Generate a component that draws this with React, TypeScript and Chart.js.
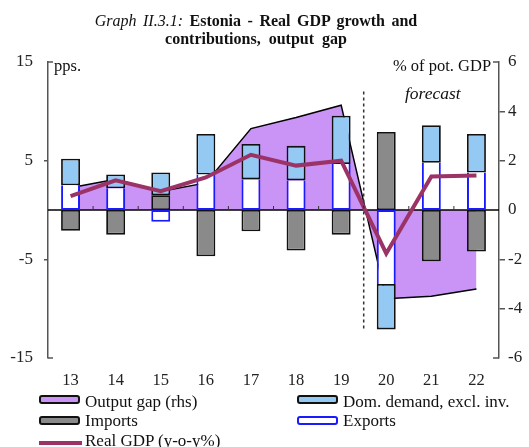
import React, { useEffect, useRef } from 'react';
import { Chart, registerables } from 'chart.js';

Chart.register(...registerables);

const years = ['13', '14', '15', '16', '17', '18', '19', '20', '21', '22'];
const outputGap = [0.9, 1.25, 0.75, 1.1, 3.3, 3.75, 4.25, -3.6, -3.5, -3.2];
const domDemand = [2.7, 1.4, 2.3, 4.1, 3.6, 3.5, 4.9, -4.6, 3.8, 3.9];
const importsData = [-2.1, -2.5, 1.5, -4.7, -2.15, -4.1, -2.5, 7.9, -5.2, -4.2];
const exportsData = [2.5, 2.2, -1.2, 3.6, 3.1, 3.0, 4.65, -7.5, 4.8, 3.8];
const realGdp = [1.4, 3.0, 1.9, 3.3, 5.6, 4.5, 5.0, -4.4, 3.4, 3.5];

const leftMin = -15;
const leftMax = 15;
const leftStep = 10;
const rightMin = -6;
const rightMax = 6;
const rightStep = 2;
const forecastTop = 12;
const forecastBottom = -12.2;

const FONT = '"Liberation Serif", "Times New Roman", serif';

const annotPlugin = {
  id: 'annot',
  afterDatasetDraw(chart: any, args: any) {
    if (args.index !== 4) return;
    const { ctx, chartArea: ca, scales } = chart;
    const y0 = scales.y1.getPixelForValue(0);
    ctx.save();
    ctx.strokeStyle = '#000';
    ctx.lineWidth = 1.5;
    ctx.beginPath();
    ctx.moveTo(ca.left, y0);
    ctx.lineTo(ca.right, y0);
    ctx.stroke();
    ctx.lineWidth = 1;
    ctx.strokeStyle = '#333';
    const x = scales.x;
    for (let i = 0; i < years.length - 1; i++) {
      const xb = (x.getPixelForValue(i) + x.getPixelForValue(i + 1)) / 2;
      ctx.beginPath();
      ctx.moveTo(xb, y0);
      ctx.lineTo(xb, y0 - 4);
      ctx.stroke();
    }
    ctx.restore();
  },
  afterDatasetsDraw(chart: any) {
    const { ctx, chartArea: ca, scales } = chart;
    const x = scales.x;
    const y = scales.y;
    ctx.save();
    const xd = (x.getPixelForValue(6) + x.getPixelForValue(7)) / 2;
    ctx.strokeStyle = '#333';
    ctx.lineWidth = 1.5;
    ctx.setLineDash([3, 3]);
    ctx.beginPath();
    ctx.moveTo(xd, y.getPixelForValue(forecastTop));
    ctx.lineTo(xd, y.getPixelForValue(forecastBottom));
    ctx.stroke();
    ctx.setLineDash([]);
    ctx.strokeStyle = '#555';
    ctx.lineWidth = 1.5;
    ctx.beginPath();
    ctx.moveTo(ca.left, ca.top);
    ctx.lineTo(ca.left + 5, ca.top);
    ctx.moveTo(ca.left, ca.bottom);
    ctx.lineTo(ca.left + 5, ca.bottom);
    ctx.moveTo(ca.right, ca.top);
    ctx.lineTo(ca.right - 6, ca.top);
    ctx.moveTo(ca.right, ca.bottom);
    ctx.lineTo(ca.right - 6, ca.bottom);
    ctx.stroke();
    ctx.restore();
  },
};

function Swatch({ left, top, fill, border }: { left: number; top: number; fill: string; border: string }) {
  return (
    <div
      style={{
        position: 'absolute',
        left,
        top,
        width: 37,
        height: 5,
        background: fill,
        border: `2.5px solid ${border}`,
        borderRadius: 3,
      }}
    />
  );
}

function LegendText({ left, top, text }: { left: number; top: number; text: string }) {
  return (
    <div style={{ position: 'absolute', left, top, fontSize: 17, lineHeight: '19px', whiteSpace: 'nowrap', color: '#111' }}>
      {text}
    </div>
  );
}

export default function App() {
  const ref = useRef<HTMLCanvasElement>(null);

  useEffect(() => {
    const canvas = ref.current!;
    const chart = new Chart(canvas, {
      type: 'bar',
      data: {
        labels: years,
        datasets: [
          {
            type: 'line',
            label: 'Real GDP (y-o-y%)',
            data: realGdp,
            yAxisID: 'y',
            stack: 'gdp',
            borderColor: '#9B3366',
            borderWidth: 4,
            pointRadius: 0,
            tension: 0,
            fill: false,
            order: 0,
          } as any,
          {
            type: 'bar',
            label: 'Exports',
            data: exportsData,
            yAxisID: 'y',
            stack: 'c',
            backgroundColor: '#FFFFFF',
            borderColor: '#1a1aff',
            borderWidth: 2,
            borderSkipped: (c: any) =>
              Math.sign(domDemand[c.dataIndex]) === Math.sign(exportsData[c.dataIndex]) ? 'end' : false,
            order: 1,
          },
          {
            type: 'bar',
            label: 'Imports',
            data: importsData,
            yAxisID: 'y',
            stack: 'c',
            backgroundColor: '#8A8A8A',
            borderColor: '#111',
            borderWidth: 1.8,
            borderSkipped: false,
            order: 1,
          },
          {
            type: 'bar',
            label: 'Dom. demand, excl. inv.',
            data: domDemand,
            yAxisID: 'y',
            stack: 'c',
            backgroundColor: '#93C9F3',
            borderColor: '#111',
            borderWidth: 1.8,
            borderSkipped: false,
            order: 1,
          },
          {
            type: 'line',
            label: 'Output gap (rhs)',
            data: outputGap,
            yAxisID: 'y1',
            borderColor: '#000',
            borderWidth: 1.5,
            backgroundColor: '#C994F6',
            fill: 'origin',
            pointRadius: 0,
            tension: 0,
            order: 2,
          } as any,
        ],
      },
      options: {
        animation: false,
        responsive: false,
        devicePixelRatio: 1,
        layout: { padding: { top: 62, bottom: 57, left: 0, right: 0 } },
        datasets: { bar: { categoryPercentage: 1, barPercentage: 0.42 } },
        plugins: { legend: { display: false }, tooltip: { enabled: false }, title: { display: false } },
        scales: {
          x: {
            stacked: true,
            grid: { display: false, drawTicks: false },
            border: { display: false },
            ticks: { color: '#222', font: { family: FONT, size: 16.5 }, padding: 13, maxRotation: 0 },
            afterFit: (s: any) => {
              s.height = 32;
            },
          },
          y: {
            position: 'left',
            stacked: true,
            min: leftMin,
            max: leftMax,
            ticks: { stepSize: leftStep, color: '#222', font: { family: FONT, size: 17 }, padding: 11 },
            grid: {
              drawOnChartArea: false,
              tickLength: 4,
              lineWidth: 1.5,
              tickColor: (c: any) => (Math.abs(c.tick?.value) === leftMax ? 'rgba(0,0,0,0)' : '#555'),
            },
            border: { display: true, color: '#555', width: 1.5 },
            afterFit: (s: any) => {
              s.width = 48;
            },
          },
          y1: {
            position: 'right',
            min: rightMin,
            max: rightMax,
            ticks: { stepSize: rightStep, color: '#222', font: { family: FONT, size: 17 }, padding: 3 },
            grid: {
              drawOnChartArea: false,
              tickLength: 6,
              lineWidth: 1.5,
              tickColor: (c: any) =>
                c.tick?.value === 0 || Math.abs(c.tick?.value) === rightMax ? 'rgba(0,0,0,0)' : '#555',
            },
            border: { display: true, color: '#555', width: 1.5 },
            afterFit: (s: any) => {
              s.width = 30;
            },
          },
        },
      } as any,
      plugins: [annotPlugin],
    });
    return () => chart.destroy();
  }, []);

  return (
    <div
      style={{
        position: 'absolute',
        left: 0,
        top: 0,
        width: 529,
        height: 447,
        background: '#fff',
        fontFamily: FONT,
        color: '#111',
        overflow: 'hidden',
      }}
    >
      <canvas ref={ref} width={529} height={447} style={{ position: 'absolute', left: 0, top: 0, width: 529, height: 447 }} />
      <div
        style={{
          position: 'absolute',
          left: 0,
          top: 12,
          width: 512,
          textAlign: 'center',
          fontSize: 16,
          lineHeight: '17.5px',
        }}
      >
        <div style={{ wordSpacing: 2.5 }}>
          <i>Graph II.3.1:</i> <b>Estonia - Real GDP growth and</b>
        </div>
        <div style={{ wordSpacing: 4 }}>
          <b>contributions, output gap</b>
        </div>
      </div>
      <div style={{ position: 'absolute', left: 54, top: 57, fontSize: 16.5, lineHeight: '17px' }}>pps.</div>
      <div style={{ position: 'absolute', left: 393, top: 57, fontSize: 16.5, lineHeight: '17px', whiteSpace: 'nowrap' }}>
        % of pot. GDP
      </div>
      <div style={{ position: 'absolute', left: 405, top: 85, fontSize: 17.5, lineHeight: '17px', fontStyle: 'italic' }}>
        forecast
      </div>

      <Swatch left={39} top={395} fill="#C994F6" border="#111" />
      <LegendText left={85} top={391.5} text="Output gap (rhs)" />
      <Swatch left={297} top={395} fill="#93C9F3" border="#111" />
      <LegendText left={343} top={391.5} text="Dom. demand, excl. inv." />
      <Swatch left={39} top={415.5} fill="#8A8A8A" border="#111" />
      <LegendText left={85} top={411} text="Imports" />
      <Swatch left={297} top={415.5} fill="#FFFFFF" border="#1a1aff" />
      <LegendText left={343} top={411} text="Exports" />
      <div style={{ position: 'absolute', left: 39, top: 440.5, width: 43, height: 4, background: '#9B3366' }} />
      <LegendText left={85} top={431} text="Real GDP (y-o-y%)" />
    </div>
  );
}
